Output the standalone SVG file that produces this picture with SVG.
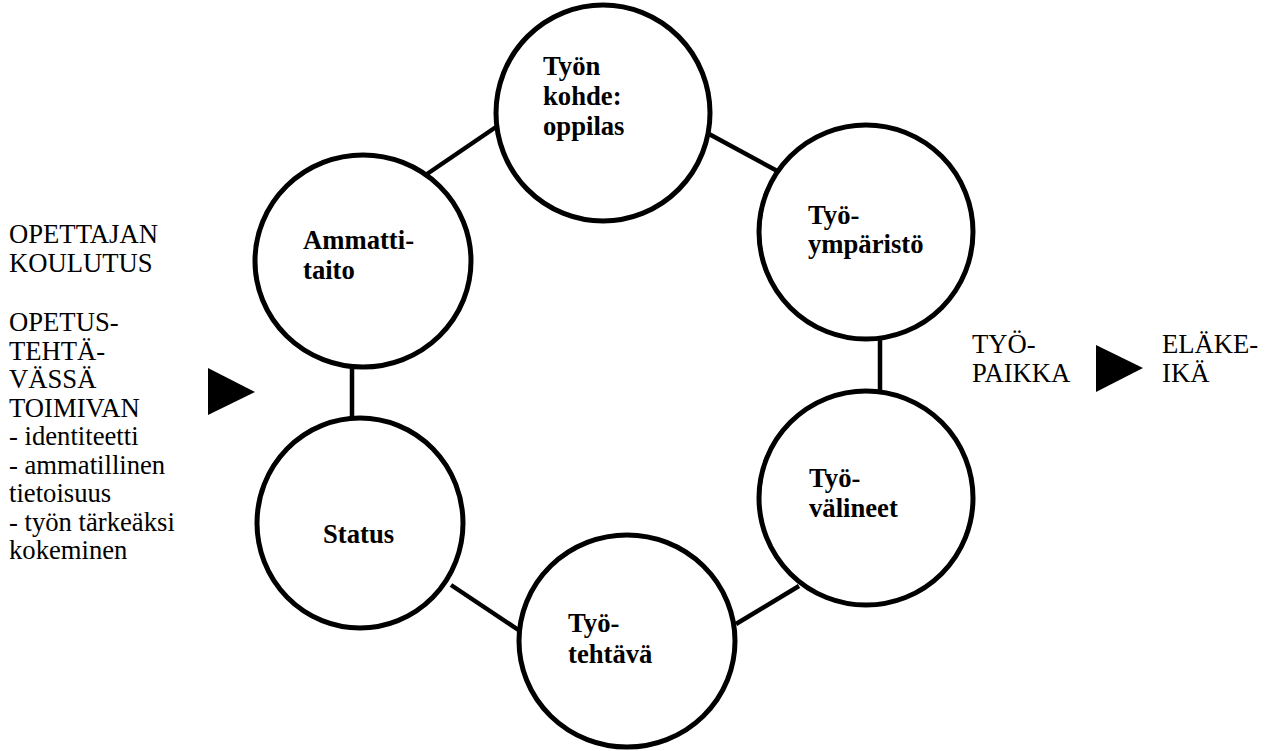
<svg xmlns="http://www.w3.org/2000/svg" width="1273" height="751" viewBox="0 0 1273 751">
<style>
.node{fill:#fff;stroke:#000;stroke-width:5}
.lbl{font-family:"Liberation Serif","Times New Roman",serif;font-size:26.67px;font-weight:bold;fill:#000}
.txt{font-family:"Liberation Serif","Times New Roman",serif;font-size:26.67px;fill:#000}
.conn line{stroke:#000;stroke-width:4.5}
</style>
<rect width="1273" height="751" fill="#fff"/>
<g id="connectors" class="conn">
<line x1="427" y1="174" x2="496" y2="127"/>
<line x1="709" y1="134" x2="781" y2="173"/>
<line x1="880" y1="339" x2="880" y2="391"/>
<line x1="799" y1="586" x2="736" y2="624"/>
<line x1="520" y1="631" x2="451" y2="585"/>
<line x1="352" y1="417" x2="352" y2="368"/>
</g>
<g id="node-kohde">
<ellipse class="node" cx="603" cy="113" rx="107" ry="108"/>
<text class="lbl" x="543" y="75">Työn</text>
<text class="lbl" x="543" y="105">kohde:</text>
<text class="lbl" x="543" y="135">oppilas</text>
</g>
<g id="node-ammattitaito">
<ellipse class="node" cx="363" cy="261" rx="108" ry="106"/>
<text class="lbl" x="303" y="249">Ammatti-</text>
<text class="lbl" x="303" y="279">taito</text>
</g>
<g id="node-ymparisto">
<ellipse class="node" cx="866" cy="232" rx="107" ry="107"/>
<text class="lbl" x="808" y="224">Työ-</text>
<text class="lbl" x="808" y="253">ympäristö</text>
</g>
<g id="node-valineet">
<ellipse class="node" cx="866" cy="498" rx="107" ry="107"/>
<text class="lbl" x="809" y="487">Työ-</text>
<text class="lbl" x="809" y="517">välineet</text>
</g>
<g id="node-tehtava">
<ellipse class="node" cx="627" cy="641" rx="108" ry="106"/>
<text class="lbl" x="568" y="632">Työ-</text>
<text class="lbl" x="568" y="663">tehtävä</text>
</g>
<g id="node-status">
<ellipse class="node" cx="360" cy="523" rx="103" ry="105"/>
<text class="lbl" x="323" y="543">Status</text>
</g>
<g id="left-text">
<text class="txt" x="9" y="243">OPETTAJAN</text>
<text class="txt" x="9" y="271.5">KOULUTUS</text>
<text class="txt" x="9" y="331">OPETUS-</text>
<text class="txt" x="9" y="359.5">TEHTÄ-</text>
<text class="txt" x="9" y="388">VÄSSÄ</text>
<text class="txt" x="9" y="416.5">TOIMIVAN</text>
<text class="txt" x="9" y="445">- identiteetti</text>
<text class="txt" x="9" y="473.5">- ammatillinen</text>
<text class="txt" x="9" y="502">tietoisuus</text>
<text class="txt" x="9" y="530.5">- työn tärkeäksi</text>
<text class="txt" x="9" y="559">kokeminen</text>
</g>
<g id="arrow-left"><polygon points="208,368 208,415 255,392" fill="#000"/></g>
<g id="tyopaikka">
<text class="txt" x="972" y="353">TYÖ-</text>
<text class="txt" x="972" y="382">PAIKKA</text>
</g>
<g id="arrow-right"><polygon points="1096,345 1096,392 1143,368" fill="#000"/></g>
<g id="elakeika">
<text class="txt" x="1162" y="353">ELÄKE-</text>
<text class="txt" x="1162" y="382">IKÄ</text>
</g>
</svg>
